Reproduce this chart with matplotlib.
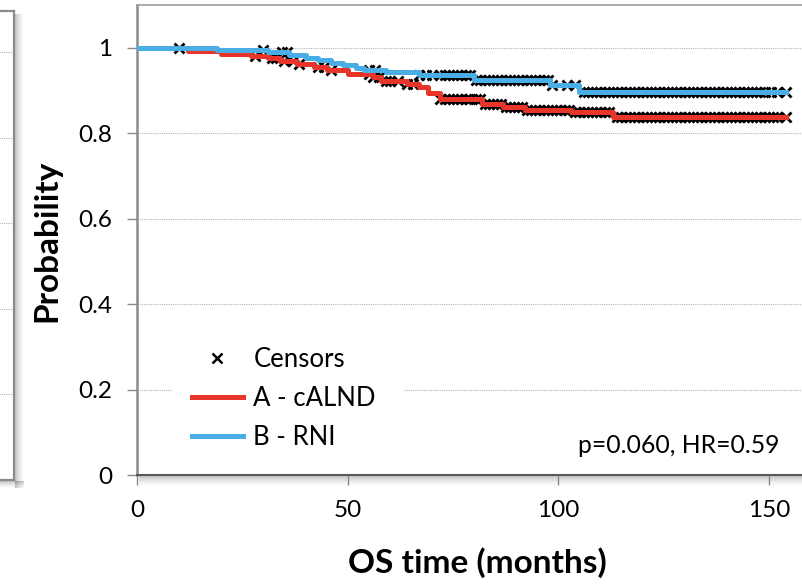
import matplotlib
matplotlib.use('Agg')
import matplotlib.pyplot as plt
from matplotlib.lines import Line2D
from matplotlib.patches import Rectangle
import numpy as np

plt.rcParams['font.family'] = ['Lato', 'DejaVu Sans']

# Kaplan-Meier steps: time (months) and survival probability after each step
rni_times = [0, 19, 31, 36, 40, 43, 46, 49, 52, 54, 59, 67, 80, 98, 105, 154]
rni_surv = [1.0, 0.995, 0.990, 0.982, 0.976, 0.971, 0.965, 0.959, 0.953, 0.947,
            0.943, 0.936, 0.924, 0.912, 0.897, 0.897]

alnd_times = [0, 12, 20, 27, 31, 34, 38, 42, 45, 50, 56, 58, 64, 67, 69, 72,
              82, 87, 92, 103, 113, 154]
alnd_surv = [1.0, 0.993, 0.986, 0.980, 0.975, 0.969, 0.962, 0.955, 0.947, 0.939,
             0.931, 0.923, 0.916, 0.907, 0.893, 0.879, 0.868, 0.861, 0.854, 0.849,
             0.837, 0.837]

# censoring times (months)
rni_censor = [10, 30, 34.5, 35.5, 55, 56.5, 67, 68.5, 70, 72, 73, 74, 75, 76, 77,
              78, 79, 80.5, 81.5, 82.5, 83.5, 84.5, 85.5, 86.5, 87.5, 88.5, 89.5,
              90.5, 91.5, 92.5, 93.5, 94.5, 95.5, 96.5, 97.5, 98.5, 102, 104,
              106, 107, 108, 109, 110, 111, 112, 113, 114, 115, 116, 117, 118,
              119, 120, 121, 122, 123, 124, 125, 126, 127, 128, 129, 130, 131,
              132, 133, 134, 135, 136, 137, 138, 139, 140, 141, 142, 143, 144,
              145, 146, 147, 148, 149, 150.5, 152, 154]
alnd_censor = [28, 32, 33, 35, 37, 38.5, 43, 44.5, 46, 55, 56, 57.5, 59, 60, 62,
               64, 65.5, 72, 73, 74, 75, 76, 77, 78, 79, 80.5, 81.5, 82.5, 83.5,
               84.5, 85.5, 86.5, 87.5, 88.5, 89.5, 90.5, 91.5, 92.5, 93.5, 94.5,
               95.5, 96.5, 97.5, 98.5, 99.5, 100.5, 101.5, 102.5, 104, 105, 106,
               107, 108, 109, 110, 111, 112, 114, 115, 116, 117, 118, 119, 120,
               121, 122, 123, 124, 125, 126, 127, 128, 129, 130, 131, 132, 133,
               134, 135, 136, 137, 138, 139, 140, 141, 142, 143, 144, 145, 146,
               147, 148, 149, 150, 151, 152, 154]

x_ticks = [0, 50, 100, 150]
y_ticks = [0, 0.2, 0.4, 0.6, 0.8, 1.0]
y_ticklabels = ['0', '0.2', '0.4', '0.6', '0.8', '1']

RED = '#e8352a'
BLUE = '#4aaee6'
SPINE = '#8a8a8a'
W, H = 802, 584


def surv_at(times, surv, t):
    idx = np.searchsorted(times, t, side='right') - 1
    return np.asarray(surv)[idx]


def px_box(x0, y0, x1, y1):
    # pixel box (top-left origin) -> figure fraction rect
    return [x0 / W, 1 - y1 / H, (x1 - x0) / W, (y1 - y0) / H]


def shadow(fig, x0, y0, x1, y1, vertical, n=9, a0=0.22):
    # soft drop shadow built from 1px strips fading out
    for i in range(n):
        a = a0 * (1 - i / n) ** 1.5
        if vertical:
            r = px_box(x0 + i, y0, x0 + i + 1, y1)
        else:
            r = px_box(x0, y0 + i, x1, y0 + i + 1)
        fig.add_artist(Rectangle((r[0], r[1]), r[2], r[3], transform=fig.transFigure,
                                 color='k', alpha=a, lw=0, zorder=0))


fig = plt.figure(figsize=(W / 100, H / 100), dpi=100)

# neighbouring panel, only its right edge is in view
ax0 = fig.add_axes(px_box(-200, 11, 14, 480))
ax0.set_xlim(0, 1)
ax0.set_ylim(0, 1.097)
for y in y_ticks[1:]:
    ax0.axhline(y, color='#b5b5b5', lw=0.8, ls=(0, (1, 1)))
ax0.set_xticks([])
ax0.set_yticks([])
for s in ax0.spines.values():
    s.set_color(SPINE)
    s.set_linewidth(1.6)
shadow(fig, 15, 14, 15, 488, vertical=True)
shadow(fig, 0, 481, 24, 481, vertical=False, n=7)

# main panel
ax = fig.add_axes(px_box(137, 5, 811, 475))
ax.set_xlim(0, 160)
ax.set_ylim(0, 1.1)
shadow(fig, 139, 476, 802, 476, vertical=False, n=10)

for y in y_ticks[1:]:
    ax.axhline(y, color='#b5b5b5', lw=0.8, ls=(0, (1, 1)), zorder=1)

# white box behind the legend
ax.add_patch(Rectangle((0.054, 0.055), 0.34, 0.25, transform=ax.transAxes,
                       facecolor='white', edgecolor='none', zorder=2))

ax.plot(rni_censor, surv_at(rni_times, rni_surv, rni_censor), ls='none',
        marker='x', ms=7.5, mew=2, color='k', zorder=3)
ax.plot(alnd_censor, surv_at(alnd_times, alnd_surv, alnd_censor), ls='none',
        marker='x', ms=7.5, mew=2, color='k', zorder=3)
ax.step(alnd_times, alnd_surv, where='post', color=RED, lw=3.6, zorder=4)
ax.step(rni_times, rni_surv, where='post', color=BLUE, lw=3.6, zorder=5)

ax.set_xticks(x_ticks)
ax.set_yticks(y_ticks)
ax.set_yticklabels(y_ticklabels)
ax.tick_params(axis='both', labelsize=17.5, colors='#8a8a8a', labelcolor='black',
               length=7, width=1)
ax.tick_params(axis='y', pad=11)
ax.tick_params(axis='x', pad=11)

ax.spines['left'].set_color(SPINE)
ax.spines['left'].set_linewidth(1.8)
ax.spines['bottom'].set_color('#5a5a5a')
ax.spines['bottom'].set_linewidth(1.5)
ax.spines['top'].set_color('#a0a0a0')
ax.spines['top'].set_linewidth(1.2)
ax.spines['right'].set_visible(False)

handles = [Line2D([], [], ls='none', marker='x', ms=6.5, mew=1.8, color='k'),
           Line2D([], [], color=RED, lw=3.6),
           Line2D([], [], color=BLUE, lw=3.6)]
ax.legend(handles, ['Censors', 'A - cALND', 'B - RNI'], loc='lower left',
          bbox_to_anchor=(0.062, 0.025), frameon=False, fontsize=18.5,
          handlelength=2.0, handletextpad=0.4, labelspacing=0.55, borderpad=0)

ax.text(152.4, 0.07, 'p=0.060, HR=0.59', ha='right', va='center', fontsize=17.8)

fig.text(47 / W, 1 - 241 / H, 'Probability', rotation=90, ha='center', va='center',
         fontsize=24, fontweight='bold')
fig.text(477 / W, 1 - 563 / H, 'OS time (months)', ha='center', va='center',
         fontsize=24, fontweight='bold')

fig.savefig('out.png', dpi=100)
